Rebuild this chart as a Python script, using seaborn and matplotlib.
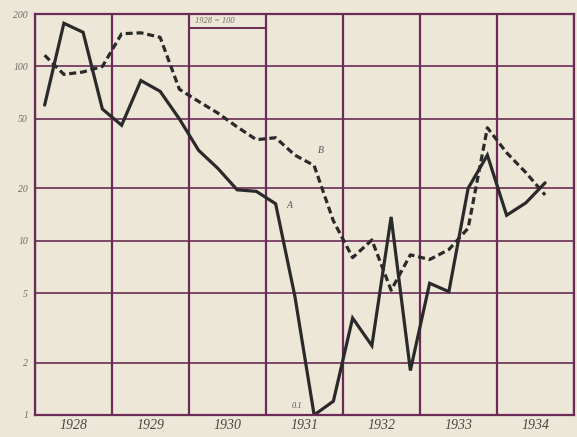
import numpy as np
import pandas as pd
import matplotlib
matplotlib.use("Agg")
import matplotlib.pyplot as plt
import seaborn as sns

# quarterly index numbers, 1928 = 100
years = [1928, 1929, 1930, 1931, 1932, 1933, 1934]
quarters = [(y, q) for y in years for q in range(1, 5)][:27]

series_a = [60, 177, 157, 57,
            46, 83, 72, 50,
            33, 26, 19.6, 19.2,
            16.3, 4.8, 0.1, 1.2,
            3.6, 2.5, 13.7, 1.8,
            5.7, 5.1, 20, 31,
            14, 16.5, 21.5]
series_b = [116, 90, 93, 100,
            154, 156, 147, 74,
            63, 54, 45, 38,
            39, 31, 27, 13,
            8.0, 10.1, 5.2, 8.3,
            7.8, 8.9, 11.8, 44.5,
            32, 24.6, 18.3]
y_ticks = [1, 2, 5, 10, 20, 50, 100, 200]
y_labels = ["1", "2", "5", "10", "20", "50", "100", "200"]
year_labels = [str(y) for y in years]

grid_col = "#6b2b56"
paper = "#ede7d8"
ink = "#2a2a2a"

df = pd.DataFrame({
    "t": [y + (q - 0.5) / 4 for y, q in quarters],
    "A": series_a,
    "B": series_b,
})
# values below the chart floor are drawn along the bottom edge
df["A_plot"] = df["A"].clip(lower=1)

sns.set_style("white")
plt.rcParams["font.family"] = ["Liberation Serif", "DejaVu Serif"]

fig = plt.figure(figsize=(5.77, 4.37), dpi=100, facecolor=paper)
ax = fig.add_axes([35 / 577, 22 / 437, 539 / 577, 401 / 437])
ax.set_facecolor(paper)

sns.lineplot(data=df, x="t", y="A_plot", ax=ax, color=ink, lw=2.3,
             solid_joinstyle="miter")
sns.lineplot(data=df, x="t", y="B", ax=ax, color=ink, lw=2.3,
             linestyle=(0, (2.2, 1.2)))

ax.set_yscale("log")
ax.set_ylim(1, 200)
ax.set_xlim(years[0], years[-1] + 1)

# grid
ax.set_yticks(y_ticks)
ax.set_yticklabels(y_labels, fontsize=7, style="italic", color="#6f6a60")
ax.yaxis.set_minor_locator(matplotlib.ticker.NullLocator())
ax.tick_params(axis="y", length=0, pad=5)
ax.grid(axis="y", color=grid_col, lw=1.2)

ax.set_xticks(years + [years[-1] + 1])
ax.set_xticklabels([])
ax.set_xticks([y + 0.5 for y in years], minor=True)
ax.set_xticklabels(year_labels, minor=True, fontsize=10, style="italic",
                   color="#4a4540")
ax.tick_params(axis="x", which="major", direction="out", length=22,
               width=1.6, color=grid_col)
ax.tick_params(axis="x", which="minor", length=0, pad=3)
ax.grid(axis="x", which="major", color=grid_col, lw=1.6)

for s in ax.spines.values():
    s.set_color(grid_col)
    s.set_linewidth(1.6)

# base-year box
ax.hlines(167, 1930, 1931, color=grid_col, lw=1.4)
ax.text(1930.08, 183, "1928 = 100", fontsize=6, style="italic",
        color="#6f6a60", va="center")

ax.text(1931.27, 15.5, "A", fontsize=7, style="italic", color="#555")
ax.text(1931.68, 32, "B", fontsize=7, style="italic", color="#555")
ax.text(1931.33, 1.1, "0.1", fontsize=6, style="italic", color="#555")

ax.set_xlabel("")
ax.set_ylabel("")

fig.savefig("out.png", dpi=100, facecolor=paper)
